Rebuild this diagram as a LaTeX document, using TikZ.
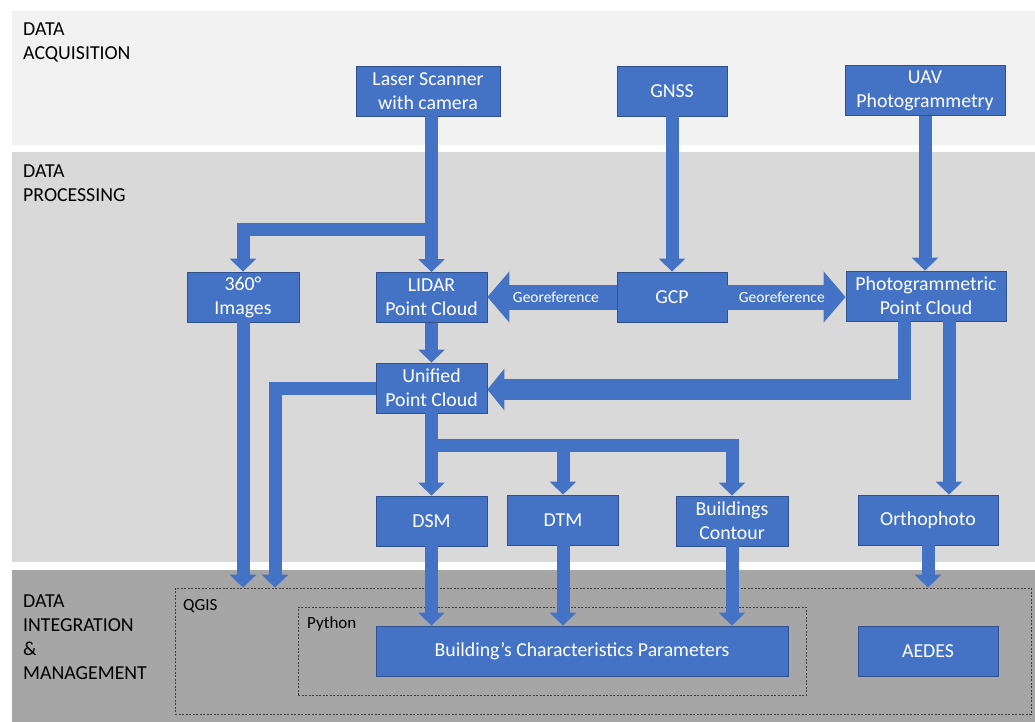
\documentclass[tikz,border=0pt]{standalone}
\usepackage{fontspec}
\setmainfont{Carlito}
\usetikzlibrary{arrows.meta}
\definecolor{boxblue}{HTML}{4472C4}
\definecolor{boxedge}{HTML}{2F528F}
\definecolor{bandA}{HTML}{F2F2F2}
\definecolor{bandB}{HTML}{D9D9D9}
\definecolor{bandC}{HTML}{A6A6A6}
\definecolor{dashgray}{HTML}{404040}
\begin{document}
\begin{tikzpicture}[x=1pt,y=-1pt,
  box/.style={draw=boxedge, line width=0.8pt, fill=boxblue, text=white, align=center, inner sep=0pt, font=\fontsize{19.8}{24}\selectfont, minimum height=50pt},
  fat/.style={draw=boxblue, line width=13pt, -{Triangle[width=26pt,length=13pt]}},
  barline/.style={draw=boxblue, line width=13pt},
  geo/.style={draw=boxblue, line width=25pt, -{Triangle[width=50pt,length=22pt]}},
  widearrow/.style={draw=boxblue, line width=21pt, -{Triangle[width=41pt,length=17pt]}},
  geolabel/.style={text=white, font=\fontsize{15.5}{18}\selectfont, inner sep=0pt},
  stage/.style={anchor=north west, align=left, inner sep=0pt, font=\fontsize{19.8}{24}\selectfont},
  dashedbox/.style={draw=dashgray, dash pattern=on 2pt off 1.5pt, line width=0.7pt},
  tool/.style={anchor=north west, inner sep=0pt, font=\fontsize{17}{20}\selectfont}
]
\useasboundingbox (0,0) rectangle (1035,722);
% bands
\fill[bandA] (12,11) rectangle (1035,145);
\fill[bandB] (12,152) rectangle (1035,562);
\fill[bandC] (12,570) rectangle (1035,722);
% stage labels
\node[stage] (s1) at (23,22.5) {DATA\\ACQUISITION};
\node[stage] (s2) at (23,165) {DATA\\PROCESSING};
\node[stage] (s3) at (23,595) {DATA\\INTEGRATION\\\&\\MANAGEMENT};
% dashed tool boxes
\node[dashedbox, minimum width=856pt, minimum height=126pt, inner sep=0pt] (qgis) at (603,651) {};
\node[dashedbox, minimum width=508pt, minimum height=88pt, inner sep=0pt] (python) at (552,651) {};
\node[tool] (qgislabel) at (183,599) {QGIS};
\node[tool] (pythonlabel) at (307,616) {Python};
% boxes
\node[box, minimum width=144pt] (laser) at (428,91) {Laser Scanner\\with camera};
\node[box, minimum width=110pt] (gnss) at (672,91) {GNSS};
\node[box, minimum width=160pt] (uav) at (925,90.5) {UAV\\Photogrammetry};
\node[box, minimum width=112pt] (img) at (243,297) {360°\\Images};
\node[box, minimum width=111pt] (lidar) at (431.5,297.5) {LIDAR\\Point Cloud};
\node[box, minimum width=110pt] (gcp) at (672,297) {GCP};
\node[box, minimum width=160pt] (photo) at (926,296) {Photogrammetric\\Point Cloud};
\node[box, minimum width=111pt] (unified) at (431.5,388) {Unified\\Point Cloud};
\node[box, minimum width=111pt] (dsm) at (431.5,521) {DSM};
\node[box, minimum width=111pt] (dtm) at (563,520) {DTM};
\node[box, minimum width=112pt] (contour) at (732,521) {Buildings\\Contour};
\node[box, minimum width=140pt] (ortho) at (928,520) {Orthophoto};
\node[box, minimum width=412pt] (bcp) at (582,651) {Building’s Characteristics Parameters};
\node[box, minimum width=140pt] (aedes) at (928,651.5) {AEDES};
% junction coordinates
\coordinate (jl) at (431.5,229.5);
\coordinate (ju) at (431.5,445);
\coordinate (ul) at (275,389);
\coordinate (pv) at (904.5,399.5);
\coordinate (ph) at (911,389.5);
\coordinate (po) at (949,0);
% connectors
\draw[fat] (laser.south -| jl) -- (jl) -| (img.north);
\draw[fat] (jl) -- (lidar.north);
\draw[fat] (gnss.south) -- (gcp.north);
\draw[fat] (uav.south) -- (uav.south |- photo.north);
\draw[geo] (gcp.west) -- node[geolabel, pos=0.47] {Georeference} (gcp.west -| lidar.east);
\draw[geo] (gcp.east) -- node[geolabel, pos=0.46] {Georeference} (gcp.east -| photo.west);
\draw[fat] (lidar.south) -- (unified.north);
\draw[barline] (photo.south -| pv) -- (pv);
\draw[widearrow] (ph) -- (ph -| unified.east);
\draw[fat] (photo.south -| po) -- (ortho.north -| po);
\draw[fat] (unified.south) -- (ju) -| (contour.north);
\draw[fat] (ju) -- (dsm.north);
\draw[fat] (ju -| dtm.north) -- (dtm.north);
\draw[fat] (unified.west) -| (ul |- qgis.north);
\draw[fat] (img.south) -- (img.south |- qgis.north);
\draw[fat] (dsm.south) -- (dsm.south |- bcp.north);
\draw[fat] (dtm.south) -- (dtm.south |- bcp.north);
\draw[fat] (contour.south) -- (contour.south |- bcp.north);
\draw[fat] (ortho.south) -- (ortho.south |- qgis.north);
\end{tikzpicture}
\end{document}
